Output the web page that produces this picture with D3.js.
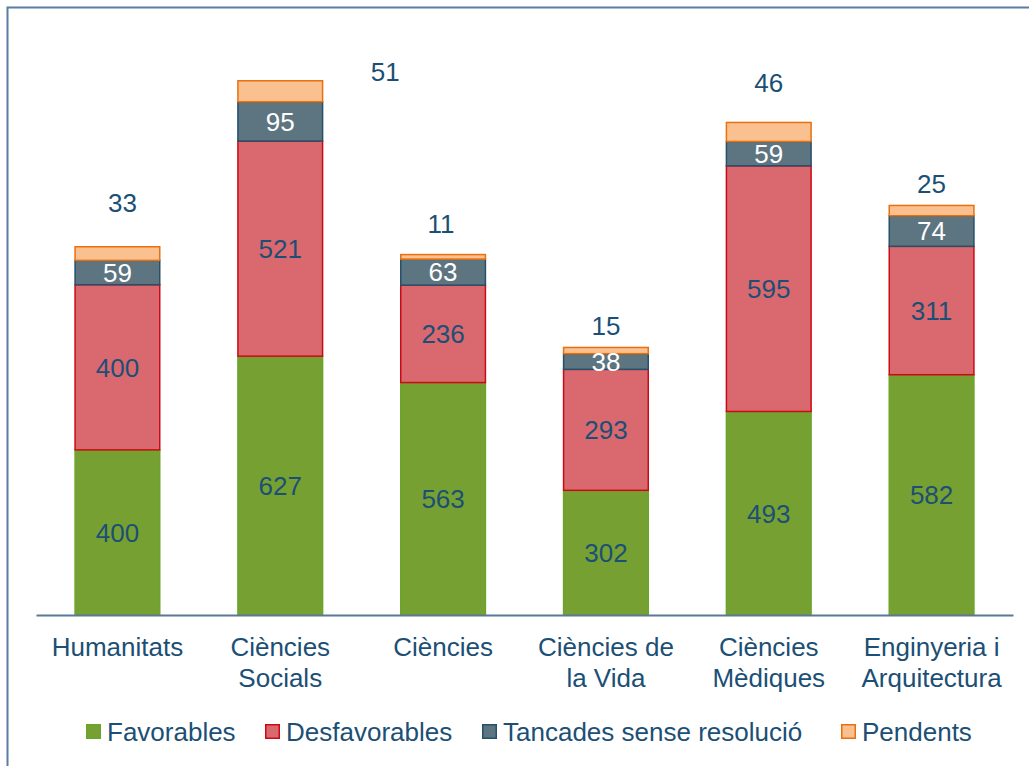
<!DOCTYPE html>
<html><head><meta charset="utf-8">
<script src="https://cdn.jsdelivr.net/npm/d3@7"></script>
<style>body{margin:0;background:#fff}svg{display:block;font-family:"Liberation Sans",Arial,sans-serif}</style>
</head><body><svg id="c" width="1029" height="766"></svg>
<script>
const categories = [["Humanitats"],["Ciències","Socials"],["Ciències"],["Ciències de","la Vida"],["Ciències","Mèdiques"],["Enginyeria i","Arquitectura"]];
const seriesNames = ["Favorables","Desfavorables","Tancades sense resolució","Pendents"];
const favorables = [400,627,563,302,493,582];
const desfavorables = [400,521,236,293,595,311];
const tancades = [59,95,63,38,59,74];
const pendents = [33,51,11,15,46,25];
// manual nudges of the "Pendents" labels (dx, dy from bar top)
const pendLabelDx = [5,105,-2,0,0,0];
const pendLabelDy = [-44,-9,-31,-22,-40,-22];

const fills = ["#77A033","#D9686F","#5D7580","#FAC090"];
const strokes = ["#6AA52A","#CC0A14","#24506A","#E8700F"];
const textCols = ["#1B4F75","#1B4F75","#ffffff","#1B4F75"];
const txt = "#1B4F75";
const FS = 26;

const svg = d3.select("#c");
svg.append("rect").attr("x",7.5).attr("y",7.5).attr("width",1100).attr("height",800)
  .attr("fill","none").attr("stroke","#5B7CA3").attr("stroke-width",2);

const x = d3.scaleBand().domain(d3.range(categories.length)).range([36,1013]).paddingInner(0.48).paddingOuter(0.24);
const y = d3.scaleLinear().domain([0,1400]).range([615,37]);

const data = categories.map((c,i)=>({i, Favorables:favorables[i], Desfavorables:desfavorables[i], "Tancades sense resolució":tancades[i], Pendents:pendents[i]}));
const stack = d3.stack().keys(seriesNames)(data);

stack.forEach((layer,k)=>{
  const g = svg.append("g");
  g.selectAll("rect").data(layer).join("rect")
    .attr("x",d=>x(d.data.i)).attr("width",x.bandwidth())
    .attr("y",d=>y(d[1])).attr("height",d=>y(d[0])-y(d[1]))
    .attr("fill",fills[k]).attr("stroke",strokes[k]).attr("stroke-width",1.5);
});
stack.forEach((layer,k)=>{
  const g = svg.append("g");
  g.selectAll("text").data(layer).join("text")
    .attr("x",d=> x(d.data.i)+x.bandwidth()/2 + (k===3?pendLabelDx[d.data.i]:0))
    .attr("y",d=> k===3 ? y(d[1]) + pendLabelDy[d.data.i] : (y(d[0])+y(d[1]))/2)
    .attr("dy","0.36em").attr("text-anchor","middle")
    .attr("font-size",FS).attr("fill",textCols[k])
    .text(d=>d[1]-d[0]);
});

// axis
const ax = svg.append("g").attr("transform","translate(0,615)").call(d3.axisBottom(x).tickSize(0).tickFormat(""));
ax.select(".domain").attr("stroke","#5B7896").attr("stroke-width",2);
const cl = svg.append("g");
categories.forEach((lines,i)=>{
  const t = cl.append("text").attr("text-anchor","middle").attr("font-size",FS).attr("fill",txt)
    .attr("x",x(i)+x.bandwidth()/2).attr("y",656);
  lines.forEach((l,j)=>t.append("tspan").attr("x",x(i)+x.bandwidth()/2).attr("dy",j?30.5:0).text(l));
});

// legend
const legX = [86,265,482,841];
const lg = svg.append("g");
seriesNames.forEach((n,k)=>{
  lg.append("rect").attr("x",legX[k]+0.75).attr("y",724.75).attr("width",13.5).attr("height",13.5)
    .attr("fill",fills[k]).attr("stroke",strokes[k]).attr("stroke-width",1.5);
  lg.append("text").attr("x",legX[k]+21).attr("y",732).attr("dy","0.36em").attr("font-size",FS).attr("fill",txt).text(n);
});
</script></body></html>
